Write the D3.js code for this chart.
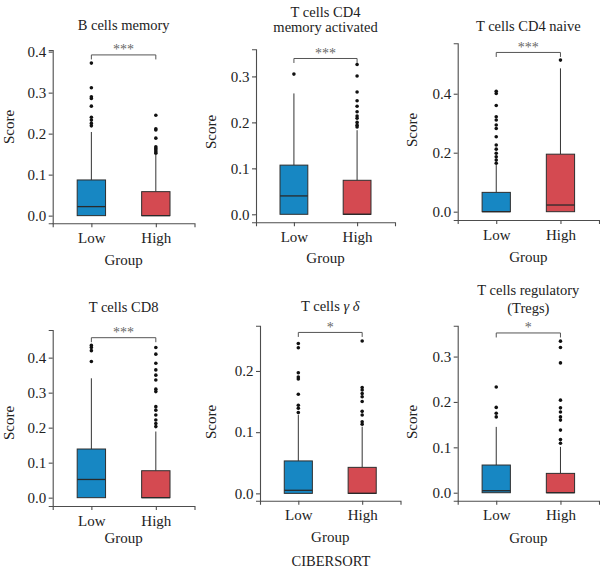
<!DOCTYPE html>
<html>
<head>
<meta charset="utf-8">
<script src="https://cdn.jsdelivr.net/npm/d3@7"></script>
<style>
  html, body { margin: 0; padding: 0; background: #fff; }
  svg { display: block; }
  svg text { font-family: "Liberation Serif", "Times New Roman", "DejaVu Serif", serif !important; }
</style>
</head>
<body>
<svg id="chart" width="600" height="571"></svg>
<script>
// ---------------- data ----------------
const groups = ["Low", "High"];
const titleLines = [
  ["B cells memory"],
  ["T cells CD4", "memory activated"],
  ["T cells CD4 naive"],
  ["T cells CD8"],
  ["T cells γ δ"],
  ["T cells regulatory", "(Tregs)"]
];
// box stats: [lower whisker, q1, median, q3, upper whisker]
const lowStats = [
  [0, 0, 0.022, 0.087, 0.204],
  [0, 0, 0.040, 0.107, 0.263],
  [0, 0, 0.000, 0.0655, 0.158],
  [0, 0, 0.052, 0.139, 0.341],
  [0, 0, 0.005, 0.053, 0.128],
  [0, 0, 0.0044, 0.061, 0.145]
];
const highStats = [
  [0, 0, 0.000, 0.0585, 0.148],
  [0, 0, 0.000, 0.074, 0.183],
  [0, 0, 0.0226, 0.195, 0.486],
  [0, 0, 0.000, 0.077, 0.189],
  [0, 0, 0.000, 0.0425, 0.109],
  [0, 0, 0.000, 0.0426, 0.101]
];
const lowOutliers = [
  [0.219, 0.225, 0.233, 0.240, 0.267, 0.286, 0.290, 0.312, 0.372],
  [0.305],
  [0.164, 0.175, 0.186, 0.198, 0.212, 0.226, 0.254, 0.282, 0.294, 0.311, 0.322, 0.360, 0.401, 0.408],
  [0.389, 0.420, 0.429, 0.435],
  [0.132, 0.139, 0.144, 0.162, 0.187, 0.190, 0.197, 0.238, 0.245],
  [0.167, 0.175, 0.188, 0.233]
];
const highOutliers = [
  [0.152, 0.156, 0.160, 0.164, 0.168, 0.189, 0.209, 0.212, 0.245],
  [0.190, 0.194, 0.200, 0.209, 0.214, 0.223, 0.235, 0.247, 0.266, 0.301, 0.326],
  [0.514],
  [0.203, 0.212, 0.222, 0.236, 0.250, 0.260, 0.303, 0.310, 0.336, 0.350, 0.365, 0.384, 0.410, 0.429],
  [0.113, 0.117, 0.128, 0.134, 0.150, 0.158, 0.163, 0.169, 0.173, 0.249],
  [0.109, 0.117, 0.138, 0.160, 0.167, 0.178, 0.187, 0.204, 0.286, 0.320, 0.334]
];
const yTicks = [
  [0, 0.1, 0.2, 0.3, 0.4],
  [0, 0.1, 0.2, 0.3],
  [0, 0.2, 0.4],
  [0, 0.1, 0.2, 0.3, 0.4],
  [0, 0.1, 0.2],
  [0, 0.1, 0.2, 0.3]
];
const signif = ["***", "***", "***", "***", "*", "*"];
const bracketValue = [0.392, 0.339, 0.540, 0.457, 0.263, 0.352];
const yLabel = "Score";
const xLabel = "Group";
const caption = "CIBERSORT";

// ---------------- layout ----------------
const layout = [
  { left: 52.7, right: 194.5, top: 50, bottom: 223.3, ymin: -0.0187, ymax: 0.404, titleY: [29.5], groupY: 264.5, scoreX: 8.5, scoreY: 127 },
  { left: 256, right: 395, top: 49.3, bottom: 222.3, ymin: -0.0174, ymax: 0.359, titleY: [16.5, 31.5], groupY: 263, scoreX: 211, scoreY: 132 },
  { left: 457.7, right: 599, top: 43.3, bottom: 220, ymin: -0.0282, ymax: 0.571, titleY: [30.5], groupY: 262, scoreX: 412, scoreY: 130 },
  { left: 52.7, right: 194.5, top: 330, bottom: 506, ymin: -0.0238, ymax: 0.479, titleY: [312.3], groupY: 543, scoreX: 8.5, scoreY: 423 },
  { left: 260, right: 400.5, top: 325.7, bottom: 500.7, ymin: -0.012, ymax: 0.274, titleY: [310.7], groupY: 541.5, scoreX: 211, scoreY: 422 },
  { left: 457.7, right: 599, top: 325.7, bottom: 500.7, ymin: -0.0176, ymax: 0.368, titleY: [295, 312.5], groupY: 542.5, scoreX: 412, scoreY: 422 }
];
const fill = { Low: "#1787c3", High: "#d44a51" };
const axisColor = "#4d4d4d";
const textColor = "#222";
const serif = "Liberation Serif, Times New Roman, serif";

const svg = d3.select("#chart");

layout.forEach((L, i) => {
  const g = svg.append("g");
  const x = d3.scalePoint().domain(groups).range([L.left, L.right]).padding(0.6);
  const y = d3.scaleLinear().domain([L.ymin, L.ymax]).range([L.bottom, L.top]);
  const boxW = x.step() * 0.44;

  // axes
  const ya = g.append("g").attr("transform", `translate(${L.left},0)`)
    .call(d3.axisLeft(y).tickValues(yTicks[i]).tickFormat(d3.format(".1f")).tickSizeOuter(0).tickSize(4).tickPadding(2.5));
  const xa = g.append("g").attr("transform", `translate(0,${L.bottom})`)
    .call(d3.axisBottom(x).tickSizeOuter(0).tickSize(4).tickPadding(5));
  [ya, xa].forEach(a => {
    a.attr("font-family", serif).attr("font-size", 15);
    a.select(".domain").attr("stroke", axisColor).attr("stroke-width", 1.1);
    a.selectAll(".tick line").attr("stroke", axisColor).attr("stroke-width", 1.1);
    a.selectAll(".tick text").attr("fill", textColor);
  });

  // boxes
  groups.forEach(grp => {
    const s = grp === "Low" ? lowStats[i] : highStats[i];
    const outs = grp === "Low" ? lowOutliers[i] : highOutliers[i];
    const cx = x(grp);
    g.append("line").attr("x1", cx).attr("x2", cx).attr("y1", y(s[3])).attr("y2", y(s[4]))
      .attr("stroke", "#333").attr("stroke-width", 1);
    g.append("line").attr("x1", cx).attr("x2", cx).attr("y1", y(s[1])).attr("y2", y(s[0]))
      .attr("stroke", "#333").attr("stroke-width", 1);
    g.append("rect").attr("x", cx - boxW / 2).attr("width", boxW)
      .attr("y", y(s[3])).attr("height", y(s[1]) - y(s[3]))
      .attr("fill", fill[grp]).attr("stroke", "#2e2e2e").attr("stroke-width", 1);
    g.append("line").attr("x1", cx - boxW / 2).attr("x2", cx + boxW / 2)
      .attr("y1", y(s[2])).attr("y2", y(s[2]))
      .attr("stroke", "#2a2a2a").attr("stroke-width", 1.3);
    g.selectAll(null).data(outs).enter().append("circle")
      .attr("cx", cx).attr("cy", d => y(d)).attr("r", 1.8).attr("fill", "#111");
  });

  // significance bracket
  const by = y(bracketValue[i]);
  const x1 = x("Low"), x2 = x("High");
  g.append("path")
    .attr("d", `M${x1},${by + 4.5}V${by}H${x2}V${by + 4.5}`)
    .attr("fill", "none").attr("stroke", "#555").attr("stroke-width", 1);
  g.append("text").attr("x", (x1 + x2) / 2).attr("y", by - 0.5)
    .attr("text-anchor", "middle").attr("fill", "#666")
    .attr("font-family", serif).attr("font-size", 14)
    .text(signif[i]);

  // title
  const cxT = (L.left + L.right) / 2;
  titleLines[i].forEach((line, k) => {
    const t = g.append("text").attr("x", cxT).attr("y", L.titleY[k])
      .attr("text-anchor", "middle").attr("fill", textColor)
      .attr("font-family", serif).attr("font-size", 14.5);
    if (line.indexOf("γ") >= 0) {
      t.append("tspan").text("T cells ");
      t.append("tspan").attr("font-style", "italic").text("γ δ");
    } else {
      t.text(line);
    }
  });

  // axis titles
  g.append("text").attr("x", (L.left + L.right) / 2).attr("y", L.groupY)
    .attr("text-anchor", "middle").attr("fill", textColor)
    .attr("font-family", serif).attr("font-size", 15).text(xLabel);
  g.append("text").attr("transform", `translate(${L.scoreX},${L.scoreY}) rotate(-90)`)
    .attr("text-anchor", "middle").attr("dominant-baseline", "central")
    .attr("fill", textColor).attr("font-family", serif).attr("font-size", 15).text(yLabel);
});

svg.append("text").attr("x", 331).attr("y", 566).attr("text-anchor", "middle")
  .attr("fill", textColor).attr("font-family", serif).attr("font-size", 14.5).text(caption);
</script>
</body>
</html>
